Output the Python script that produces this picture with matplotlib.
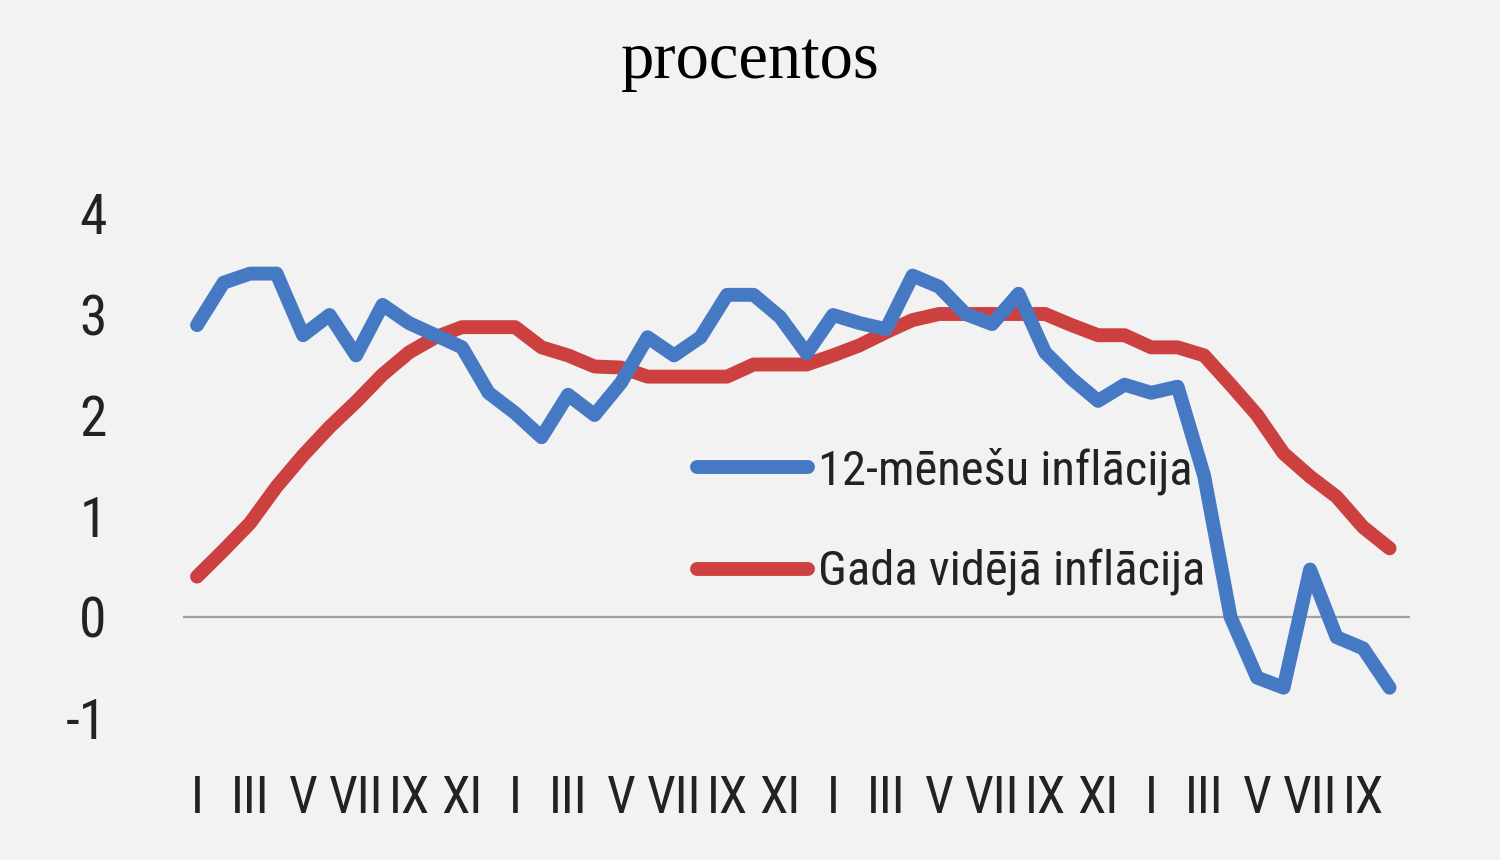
import matplotlib
matplotlib.use("Agg")
import matplotlib.pyplot as plt
from matplotlib import font_manager
import numpy as np

# menesi (romiesu cipari), katrs otrais menesis 4 gadu perioda
month_labels = ["I", "III", "V", "VII", "IX", "XI"]
n_points = 46

# 12-menesu inflacija, %
infl_12m = [2.89, 3.31, 3.40, 3.40, 2.79, 2.99, 2.59, 3.09, 2.91, 2.79,
            2.67, 2.22, 2.02, 1.78, 2.20, 2.00, 2.32, 2.77, 2.59, 2.77,
            3.19, 3.19, 2.97, 2.61, 2.99, 2.91, 2.85, 3.38, 3.27, 3.00,
            2.90, 3.20, 2.62, 2.36, 2.14, 2.30, 2.22, 2.28, 1.40, 0.00,
            -0.60, -0.70, 0.47, -0.20, -0.31, -0.70]

# gada videja inflacija, %
infl_avg = [0.40, 0.66, 0.93, 1.29, 1.60, 1.88, 2.13, 2.40, 2.62, 2.77,
            2.87, 2.87, 2.87, 2.67, 2.59, 2.48, 2.47, 2.38, 2.38, 2.38,
            2.38, 2.50, 2.50, 2.50, 2.59, 2.69, 2.82, 2.94, 3.00, 3.00,
            3.00, 3.00, 3.00, 2.89, 2.79, 2.79, 2.67, 2.67, 2.59, 2.30,
            2.00, 1.62, 1.39, 1.19, 0.89, 0.68]

y_ticks = [-1, 0, 1, 2, 3, 4]

# saurs fonts, ja tads ir
have = {f.name for f in font_manager.fontManager.ttflist}
narrow = "DejaVu Sans"
for name in ["Liberation Sans Narrow", "Roboto Condensed", "Open Sans Condensed", "Liberation Sans"]:
    if name in have:
        narrow = name
        break

BLUE = "#4679c4"
RED = "#cc4140"
BG = "#f2f2f2"

fig = plt.figure(figsize=(15, 8.6), dpi=100, facecolor=BG)
ax = fig.add_axes([183 / 1500, 1 - 718 / 860, (1410 - 183) / 1500, (718 - 213) / 860])
ax.set_facecolor(BG)

x = np.arange(n_points)
ax.axhline(0, color="#a0a0a0", lw=1.6, zorder=1)
ax.plot(x, infl_12m, color=BLUE, lw=10, solid_capstyle="round", solid_joinstyle="round",
        label="12-mēnešu inflācija", clip_on=False, zorder=3)
ax.plot(x, infl_avg, color=RED, lw=10, solid_capstyle="round", solid_joinstyle="round",
        label="Gada vidējā inflācija", clip_on=False, zorder=2)

ax.set_xlim(-0.53, 45.77)
ax.set_ylim(-1, 4)

xt = np.arange(0, n_points, 2)
xl = [month_labels[k % 6] for k in range(len(xt))]
ax.set_xticks(xt)
ax.set_xticklabels(xl, fontfamily=narrow, fontsize=37, color="#222222")
ax.set_yticks(y_ticks)
ax.set_yticklabels([str(v) for v in y_ticks], fontfamily=narrow, fontsize=40, color="#222222")
ax.tick_params(axis="x", length=0, pad=40)
ax.tick_params(axis="y", length=0, pad=55)
for s in ax.spines.values():
    s.set_visible(False)

leg = ax.legend(loc="upper left", bbox_to_anchor=(0.419, 0.536), frameon=False,
                prop={"family": narrow, "size": 35}, handlelength=2.28, handletextpad=0.2,
                labelspacing=1.12, borderaxespad=0, borderpad=0)
for t in leg.get_texts():
    t.set_color("#222222")

fig.text(0.5, 1 - 62 / 860, "procentos", ha="center", va="center",
         fontfamily="Liberation Serif", fontsize=48, color="black")

fig.savefig("out.png", dpi=100, facecolor=BG)
